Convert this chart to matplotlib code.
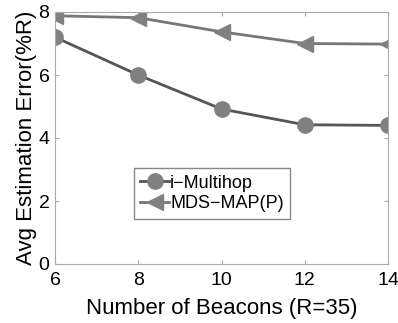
import matplotlib
matplotlib.use("Agg")
import matplotlib.pyplot as plt

plt.rcParams['font.family'] = ['Liberation Sans', 'DejaVu Sans']

beacons = [6, 8, 10, 12, 14]
i_multihop = [7.2, 6.0, 4.92, 4.42, 4.4]
mds_map_p = [7.88, 7.82, 7.37, 7.0, 6.98]

fig = plt.figure(figsize=(3.98, 3.23), dpi=100)
ax = fig.add_axes([55/398, 1-264/323, 333/398, 252/323])

ax.plot(beacons, i_multihop, '-', color='#555555', lw=2, marker='o', ms=11,
        mfc='#808080', mec='#808080', label='i\u2212Multihop')
ax.plot(beacons, mds_map_p, '-', color='#777777', lw=2, marker='<', ms=12,
        mfc='#808080', mec='#808080', label='MDS\u2212MAP(P)')

ax.set_xlim(6, 14)
ax.set_ylim(0, 8)
ax.set_xticks(beacons)
ax.set_yticks([0, 2, 4, 6, 8])
ax.tick_params(direction='in', top=True, right=True, labelsize=14, length=3,
               color='#aaaaaa', pad=4)
ax.tick_params(axis='x', pad=6)
for s in ax.spines.values():
    s.set_color('#aaaaaa')
ax.set_xlabel('Number of Beacons (R=35)', fontsize=16, labelpad=6)
ax.set_ylabel('Avg Estimation Error(%R)', fontsize=16, labelpad=1)

leg = ax.legend(loc='lower left', bbox_to_anchor=(0.237, 0.18), fontsize=13,
                fancybox=False, framealpha=1, edgecolor='#888888',
                handlelength=1.6, handletextpad=0.05, borderpad=0.35,
                labelspacing=0.2, borderaxespad=0)

fig.savefig('out.png', dpi=100)
